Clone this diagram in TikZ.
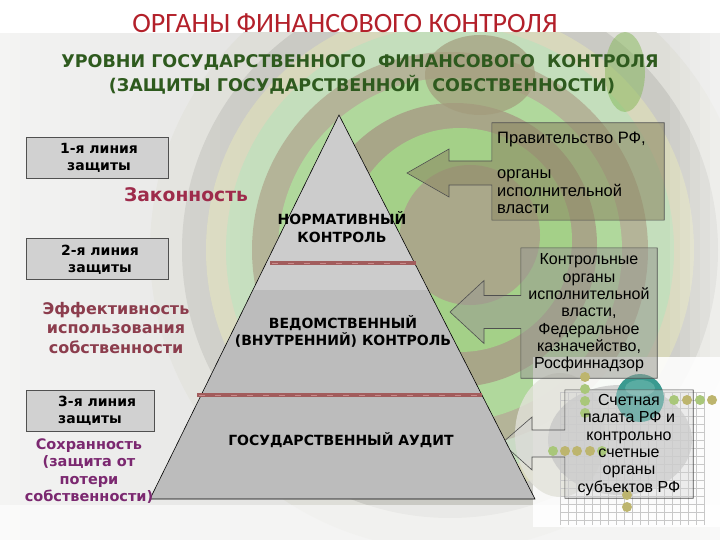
\documentclass[tikz,border=0pt]{standalone}
\usepackage{fontspec}
\setmainfont{Liberation Sans}
\newfontfamily\dv{DejaVu Sans}
\newfontfamily\carl{Carlito}
\usetikzlibrary{calc}
\pgfdeclarelayer{bgimg}
\pgfdeclarelayer{bgshape}
\pgfsetlayers{bgimg,bgshape,main}
\definecolor{titlered}{HTML}{B3202A}
\definecolor{subgreen}{HTML}{2E5A1E}
\definecolor{zakon}{HTML}{9E2B4B}
\definecolor{effek}{HTML}{8C3D4D}
\definecolor{sohr}{HTML}{7B2870}
\definecolor{redline}{HTML}{A25C5C}
\definecolor{redlight}{HTML}{C98A8A}
\definecolor{pyrlight}{HTML}{CCCCCC}
\definecolor{pyrdark}{HTML}{BCBCBC}
\definecolor{olivebox}{HTML}{8E8A66}
\definecolor{graybox}{HTML}{9A9A92}
\definecolor{lightbox}{HTML}{D4D4D4}
\definecolor{edge}{HTML}{505050}
\definecolor{teal}{HTML}{3A9A90}
\definecolor{teallight}{HTML}{6FB8AE}
\definecolor{dotgreen}{HTML}{A9C77A}
\definecolor{dotolive}{HTML}{BDB56E}
\definecolor{gridc}{HTML}{C8C8C8}
\definecolor{bga}{HTML}{E4E4E2}
\definecolor{bgb}{HTML}{DEDED8}
\definecolor{bgc}{HTML}{CACAC4}
\definecolor{bgd}{HTML}{D8D8BC}
\definecolor{bge}{HTML}{C4DEBC}
\definecolor{bgf}{HTML}{B4B498}
\definecolor{bgg}{HTML}{B0D89C}
\definecolor{bgh}{HTML}{A8A688}
\definecolor{bgi}{HTML}{A4D088}
\definecolor{bgj}{HTML}{AAA88A}
\definecolor{blobolive}{HTML}{A39C7C}
\definecolor{blobgreen}{HTML}{7CB44C}
\definecolor{panelA}{HTML}{E2E2DA}
\definecolor{panelB}{HTML}{C4C4C4}
\begin{document}
\begin{tikzpicture}[x=1pt,y=-1pt,
  lbox/.style={draw=edge,line width=0.6pt,fill=black!18,minimum width=142pt,minimum height=41pt,inner sep=0pt},
  lbtext/.style={font=\dv\bfseries\fontsize{14}{17}\selectfont,align=center,inner sep=0pt},
  pyrtext/.style={font=\dv\bfseries\fontsize{14}{18}\selectfont,align=center,inner sep=0pt},
  rtext/.style={font=\fontsize{16}{17.3}\selectfont,inner sep=0pt},
  callout/.style={draw=edge,line width=0.6pt},
  rline/.style={draw=redline,line width=4pt},
  dotg/.style={fill=dotgreen,draw=none},
  doto/.style={fill=dotolive,draw=none},
]
\useasboundingbox (0,0) rectangle (720,540);

% ---------- background ----------
\begin{pgfonlayer}{bgimg}
\fill[white] (0,0) rectangle (720,540);
\begin{scope}
\clip (0,33) rectangle (720,540);
\fill[bga] (0,33) rectangle (720,540);
\fill[bgb] (450,250) circle (300);
\fill[bgc] (450,250) circle (268);
\fill[bgd] (450,250) circle (244);
\fill[bge] (450,250) circle (224);
\fill[bgf] (450,250) circle (198);
\fill[bgg] (450,250) circle (172);
\fill[bgh] (455,245) circle (142);
\fill[bgi] (460,240) circle (112);
\fill[bgj] (470,235) circle (70);
\fill[blobolive,opacity=0.7] (480,75) ellipse (55 and 40);
\fill[blobgreen,opacity=0.45] (625,72) ellipse (20 and 40);
% fades
\foreach \i in {0,...,25} {
  \pgfmathsetmacro{\op}{0.6*(1-\i/26)}
  \fill[white,opacity=\op] (\i*10,33) rectangle (\i*10+10,540);
}
\foreach \i in {0,...,5} {
  \pgfmathsetmacro{\op}{0.1*\i}
  \fill[white,opacity=\op] (660+\i*10,33) rectangle (670+\i*10,540);
}
\fill[white,opacity=0.6] (0,505) rectangle (720,540);
% bottom-right panel
\fill[white,opacity=0.88] (533,357) rectangle (720,527);
\fill[panelA,opacity=0.8] (560,435) ellipse (45 and 62);
\fill[panelB,opacity=0.7] (620,440) ellipse (72 and 55);
\begin{scope}
\clip (560,392) rectangle (705,525);
\foreach \gx in {560,568,...,705} \draw[gridc,line width=0.4pt] (\gx,392) -- (\gx,525);
\foreach \gy in {392,400,...,525} \draw[gridc,line width=0.4pt] (560,\gy) -- (705,\gy);
\end{scope}
\fill[teal] (640,398) circle (24);
\fill[teallight,opacity=0.6] (640,388) ellipse (15 and 8);
\end{scope}
\end{pgfonlayer}

% ---------- titles ----------
\node[font=\carl\fontsize{28}{30}\selectfont,text=titlered,inner sep=0pt] (title) at (345,23) {ОРГАНЫ ФИНАНСОВОГО КОНТРОЛЯ};
\node[font=\dv\bfseries\fontsize{17.5}{22}\selectfont,text=subgreen,inner sep=0pt] (sub1) at (360,62) {УРОВНИ ГОСУДАРСТВЕННОГО \ ФИНАНСОВОГО \ КОНТРОЛЯ};
\node[font=\dv\bfseries\fontsize{17.5}{22}\selectfont,text=subgreen,inner sep=0pt] (sub2) at (362,85) {(ЗАЩИТЫ ГОСУДАРСТВЕННОЙ \ СОБСТВЕННОСТИ)};

% ---------- pyramid ----------
\coordinate (apex) at (339,115);
\coordinate (bl) at (150,499);
\coordinate (br) at (535,499);
\fill[pyrdark] (apex) -- (bl) -- (br) -- cycle;
\begin{scope}
\clip (apex) -- (bl) -- (br) -- cycle;
\fill[pyrlight] (0,100) rectangle (720,290);
\end{scope}
\draw[black,line width=0.6pt] (apex) -- (bl) -- (br) -- cycle;
\draw[rline] (270,263) -- (416,263);
\draw[rline] (197,395) -- (482,395);
\draw[redlight,line width=1pt,dash pattern=on 6pt off 10pt] (272,263) -- (414,263);
\draw[redlight,line width=1pt,dash pattern=on 6pt off 10pt] (199,395) -- (480,395);

\node[pyrtext] (norm) at (342,227) {НОРМАТИВНЫЙ\\КОНТРОЛЬ};
\node[pyrtext,font=\dv\bfseries\fontsize{14}{17}\selectfont] (vedom) at (343,331) {ВЕДОМСТВЕННЫЙ\\(ВНУТРЕННИЙ) КОНТРОЛЬ};
\node[pyrtext,font=\dv\bfseries\fontsize{14}{17}\selectfont] (audit) at (341,440) {ГОСУДАРСТВЕННЫЙ АУДИТ};

% ---------- left side ----------
\node[lbox] (lb1) at (97,157.5) {};
\node[lbtext] (lt1) at (99,158) {1-я линия\\защиты};
\node[lbox] (lb2) at (97,259) {};
\node[lbtext] (lt2) at (100,260) {2-я линия\\защиты};
\node[lbox,minimum width=128pt] (lb3) at (90,410.5) {};
\node[lbtext,align=left,anchor=west] (lt3) at (58,411) {3-я линия\\защиты};

\node[font=\dv\bfseries\fontsize{18.7}{20}\selectfont,text=zakon,inner sep=0pt] (zak) at (186,195) {Законность};
\node[font=\dv\bfseries\fontsize{16}{19.5}\selectfont,text=effek,align=center,inner sep=0pt] (eff) at (116,328) {Эффективность\\использования\\собственности};
\node[font=\dv\bfseries\fontsize{14.5}{17.3}\selectfont,text=sohr,align=center,inner sep=0pt] (soh) at (89,471) {Сохранность\\(защита от\\потери\\собственности)};

% ---------- right callouts ----------
\node[minimum width=172pt,minimum height=97pt,inner sep=0pt] (r1) at (578,171.5) {};
\node[rtext,align=left,anchor=west,font=\fontsize{16.5}{17.5}\selectfont] (rt1) at (497,173) {Правительство РФ,\\ \\органы\\исполнительной\\власти};
\node[minimum width=136pt,minimum height=130pt,inner sep=0pt] (r2) at (589,313) {};
\node[rtext,align=center] (rt2) at (589,313) {Контрольные\\органы\\исполнительной\\власти,\\Федеральное\\казначейство,\\Росфиннадзор};
\node[minimum width=128pt,minimum height=108pt,inner sep=0pt] (r3) at (629,444) {};
\node[rtext,align=center] (rt3) at (629,445) {Счетная\\палата РФ и\\контрольно\\счетные\\органы\\субъектов РФ};

\coordinate (t1) at (407,173);
\coordinate (t2) at (450,312);
\coordinate (t3) at (502,443);

\begin{pgfonlayer}{bgshape}
\filldraw[callout,fill=olivebox,fill opacity=0.6]
  (r1.north west) -- (r1.north east) -- (r1.south east) -- (r1.south west)
  -- ($(r1.west|-t1)+(0,12)$) -- ($(t1)+(42,12)$) -- ($(t1)+(42,24)$) -- (t1)
  -- ($(t1)+(42,-24)$) -- ($(t1)+(42,-12)$) -- ($(r1.west|-t1)+(0,-12)$) -- cycle;
\filldraw[callout,fill=graybox,fill opacity=0.55]
  (r2.north west) -- (r2.north east) -- (r2.south east) -- (r2.south west)
  -- ($(r2.west|-t2)+(0,16.5)$) -- ($(t2)+(34,16.5)$) -- ($(t2)+(34,31.5)$) -- (t2)
  -- ($(t2)+(34,-31.5)$) -- ($(t2)+(34,-16.5)$) -- ($(r2.west|-t2)+(0,-16.5)$) -- cycle;
\filldraw[callout,fill=lightbox,fill opacity=0.4]
  (r3.north west) -- (r3.north east) -- (r3.south east) -- (r3.south west)
  -- ($(r3.west|-t3)+(0,14)$) -- ($(t3)+(30,14)$) -- ($(t3)+(30,27)$) -- (t3)
  -- ($(t3)+(30,-26)$) -- ($(t3)+(30,-13)$) -- ($(r3.west|-t3)+(0,-13)$) -- cycle;
% dots
\foreach \dx/\st in {674/dotg,687/doto,700/dotg,712/doto} \fill[\st] (\dx,400) circle (5);
\foreach \dy/\st in {377/doto,389/dotg,401/dotg,413/dotg} \fill[\st] (585,\dy) circle (5);
\foreach \dx/\st in {553/dotg,565/doto,577/doto,590/doto,602/dotg} \fill[\st] (\dx,451) circle (5);
\foreach \dy/\st in {495/doto,507/doto} \fill[\st] (627,\dy) circle (5);
\end{pgfonlayer}
\end{tikzpicture}
\end{document}
